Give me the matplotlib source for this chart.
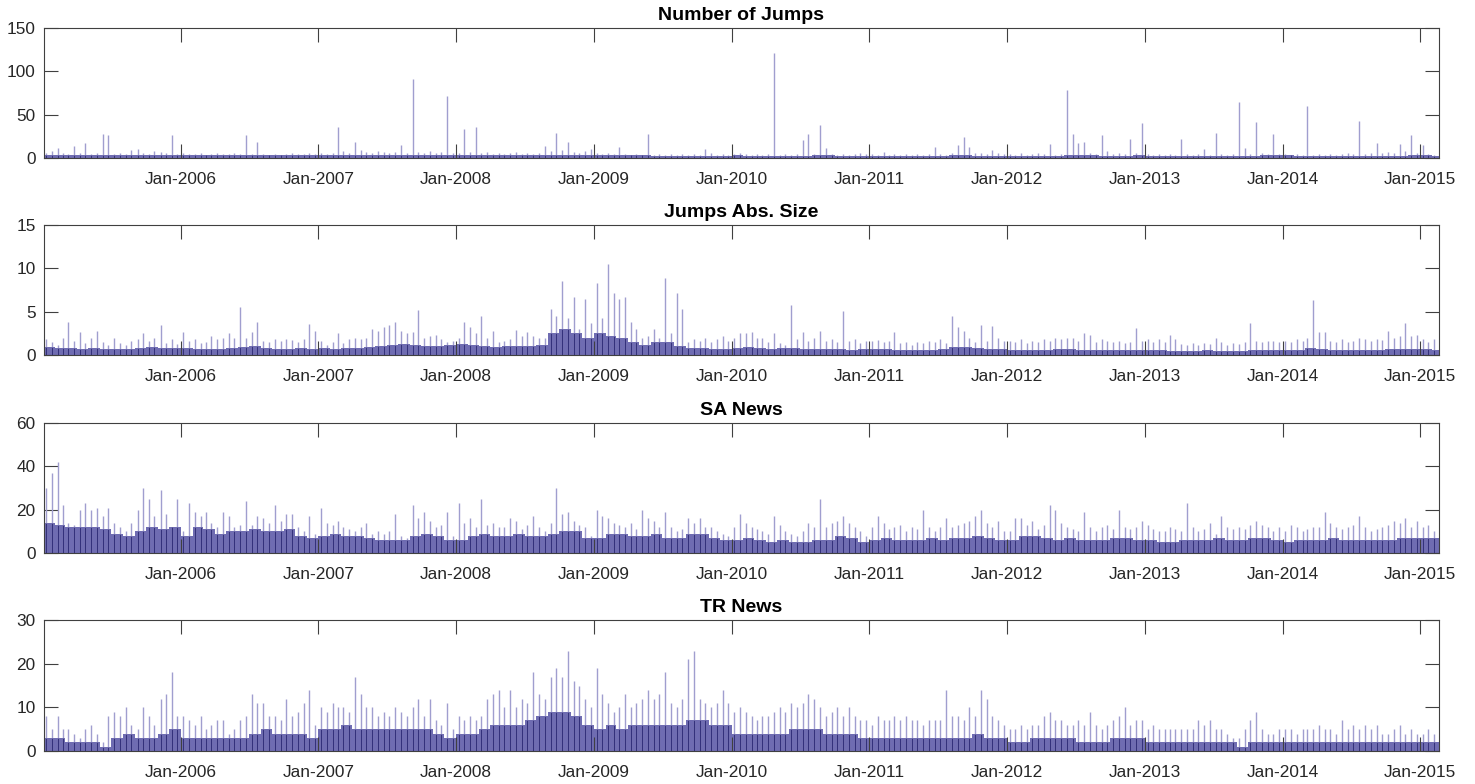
#!/usr/bin/env python3
# -*- coding: utf-8 -*-
"""
Four stacked daily-activity panels (jumps and news counts), 2005-2015.
Values are read off the reference: a monthly "body" level for the dense
mass of bars and a half-monthly "hair" level for the thin tall bars.
"""
import numpy as np
import pandas as pd
import matplotlib
matplotlib.use("Agg")
import matplotlib.pyplot as plt
import matplotlib.dates as mdates

plt.rcParams["font.family"] = ["Liberation Sans", "DejaVu Sans"]

TITLES = ["Number of Jumps", "Jumps Abs. Size", "SA News", "TR News"]
YMAX = [150, 15, 60, 30]
YTICKS = [[0, 50, 100, 150], [0, 5, 10, 15], [0, 20, 40, 60], [0, 10, 20, 30]]

# ---- Number of Jumps -------------------------------------------------------
NJ_BODY = [
    4, 3, 3, 3, 3, 3, 3, 3, 3, 3, 3, 3,   # 2005
    3, 3, 3, 3, 3, 3, 3, 3, 3, 3, 3, 3,   # 2006
    3, 3, 4, 4, 4, 4, 4, 4, 4, 4, 3, 3,   # 2007
    4, 4, 3, 3, 3, 3, 3, 3, 4, 4, 3, 3,   # 2008
    3, 3, 3, 3, 3, 2, 2, 2, 2, 2, 2, 2,   # 2009
    3, 2, 2, 2, 2, 2, 2, 3, 3, 2, 2, 2,   # 2010
    2, 2, 2, 2, 2, 2, 2, 3, 3, 2, 2, 2,   # 2011
    2, 2, 2, 2, 2, 3, 3, 3, 2, 2, 2, 3,   # 2012
    2, 2, 2, 2, 2, 2, 2, 2, 2, 2, 3, 3,   # 2013
    3, 2, 2, 2, 2, 2, 2, 2, 2, 2, 2, 3,   # 2014
    3, 2,                                 # 2015
]
NJ_HAIR = [
    6, 8, 11.5, 6, 5, 14, 6, 17, 5, 6, 27.6, 27, 5, 6, 5, 9, 10, 6, 5, 8, 7, 6, 26, 5,
    6, 5, 5, 6, 4, 5, 6, 5, 5, 6, 5, 27, 5, 19, 5, 4, 5, 4, 5, 6, 5, 5, 6, 5,
    6, 5, 6, 36, 8, 6, 18, 9, 7, 6, 8, 7, 6, 7, 14.5, 6, 91, 7, 6, 8, 6, 7, 71, 6,
    6, 34, 7, 36, 6, 7, 5, 6, 5, 6, 7, 5, 6, 5, 6, 14, 8, 29, 9, 19, 7, 6, 8, 10,
    6, 5, 6, 5, 12.6, 5, 4, 5, 4, 28, 4, 5, 4, 5, 4, 5, 4, 5, 4, 10, 6, 4, 5, 4,
    5, 6, 5, 4, 5, 4, 5, 121, 4, 5, 4, 5, 21, 28, 5, 38, 12, 5, 4, 5, 4, 5, 6, 5,
    5, 4, 7, 4, 5, 4, 5, 4, 5, 4, 5, 13, 5, 4, 6, 14.5, 23.7, 13, 6, 6, 5, 9, 6, 5,
    5, 4, 6, 4, 5, 6, 5, 16, 4, 5, 79, 27.6, 17, 18, 6, 5, 26, 8, 5, 6, 5, 22, 6, 40,
    5, 4, 5, 4, 5, 4, 22, 5, 4, 5, 10, 4, 29, 5, 4, 5, 65, 12, 5, 41, 6, 5, 28, 5,
    5, 4, 5, 4, 60.5, 4, 5, 4, 5, 4, 5, 6, 5, 42.5, 5, 6, 17, 6, 7, 6, 16, 8, 27, 6,
    15, 5, 4, 3,
]

# ---- Jumps Abs. Size -------------------------------------------------------
JS_BODY = [
    0.9, 0.8, 0.8, 0.7, 0.8, 0.7, 0.7, 0.7, 0.8, 0.9, 0.8, 0.8,
    0.8, 0.7, 0.7, 0.7, 0.8, 0.9, 1.0, 0.8, 0.7, 0.7, 0.8, 0.7,
    0.8, 0.7, 0.8, 0.8, 0.9, 1.0, 1.2, 1.3, 1.1, 1.0, 1.0, 1.1,
    1.3, 1.2, 1.0, 0.9, 1.0, 1.0, 1.0, 1.2, 2.5, 3.0, 2.5, 2.0,
    2.5, 2.2, 2.0, 1.5, 1.2, 1.5, 1.5, 1.0, 0.8, 0.8, 0.7, 0.7,
    0.8, 0.9, 0.8, 0.7, 0.8, 0.8, 0.7, 0.7, 0.7, 0.7, 0.6, 0.7,
    0.7, 0.7, 0.6, 0.6, 0.6, 0.6, 0.7, 0.9, 0.9, 0.8, 0.7, 0.7,
    0.6, 0.6, 0.6, 0.6, 0.7, 0.7, 0.6, 0.6, 0.6, 0.6, 0.6, 0.6,
    0.6, 0.6, 0.5, 0.5, 0.5, 0.6, 0.5, 0.5, 0.5, 0.6, 0.6, 0.6,
    0.6, 0.6, 0.8, 0.7, 0.6, 0.6, 0.6, 0.6, 0.6, 0.7, 0.7, 0.7,
    0.7, 0.6,
]
JS_HAIR = [
    1.8, 1.5, 1.2, 2.0, 3.8, 1.6, 2.6, 1.4, 2.0, 2.8, 1.5, 1.2, 2.0, 1.4, 1.2, 1.6, 1.8, 2.5, 1.6, 2.0, 3.5, 1.4, 1.8, 1.3,
    2.6, 1.6, 1.8, 1.4, 1.5, 2.2, 1.8, 2.0, 2.5, 2.0, 5.5, 2.0, 2.7, 3.8, 1.6, 1.5, 1.8, 1.6, 1.8, 1.7, 1.5, 1.8, 3.6, 2.8,
    1.6, 1.2, 1.5, 2.5, 1.4, 1.8, 2.0, 1.8, 2.0, 3.0, 2.8, 3.2, 3.5, 3.8, 2.8, 2.5, 2.7, 5.2, 2.0, 2.2, 2.3, 1.8, 1.5, 1.6,
    2.0, 3.8, 3.2, 2.5, 4.5, 2.0, 2.8, 1.5, 1.6, 1.8, 2.9, 2.2, 2.6, 2.2, 2.0, 2.0, 5.3, 4.5, 8.5, 4.3, 6.7, 3.0, 6.5, 3.7,
    8.3, 4.3, 10.5, 7.2, 6.5, 6.7, 3.8, 3.0, 2.0, 2.2, 3.0, 2.0, 8.9, 2.5, 7.2, 5.3, 1.5, 1.8, 1.6, 2.0, 1.5, 1.8, 2.2, 1.6,
    2.0, 2.5, 2.5, 2.7, 2.0, 2.0, 1.5, 2.5, 1.4, 1.2, 5.8, 1.8, 2.6, 1.6, 2.0, 2.8, 1.6, 1.8, 1.5, 5.1, 1.6, 1.8, 1.4, 1.6,
    1.6, 1.7, 1.5, 1.6, 2.6, 1.4, 1.5, 1.2, 1.5, 1.4, 1.6, 1.5, 1.8, 1.4, 4.5, 3.2, 2.8, 2.0, 1.5, 3.5, 1.6, 3.4, 2.0, 1.6,
    1.6, 1.5, 1.8, 1.4, 1.6, 1.5, 1.8, 1.6, 2.0, 1.8, 2.0, 2.0, 1.6, 2.5, 2.3, 1.5, 1.8, 1.6, 1.5, 1.6, 1.4, 1.5, 3.1, 1.6,
    1.8, 1.5, 1.8, 1.5, 2.3, 1.8, 1.3, 1.2, 1.4, 1.2, 1.4, 1.3, 2.0, 1.5, 1.2, 1.4, 1.3, 1.5, 3.7, 1.6, 1.5, 1.6, 1.6, 1.5,
    1.6, 1.5, 1.8, 1.6, 2.0, 6.3, 2.6, 2.6, 1.6, 1.5, 1.8, 1.5, 1.6, 2.0, 1.8, 1.6, 1.9, 1.7, 2.8, 2.0, 2.2, 3.7, 2.2, 2.3,
    1.8, 1.5, 1.8, 1.4,
]

# ---- SA News ---------------------------------------------------------------
SA_BODY = [
    14, 13, 12, 12, 12, 11, 9, 8, 10, 12, 11, 12,
    8, 12, 11, 9, 10, 10, 11, 10, 10, 11, 8, 7,
    8, 9, 8, 8, 7, 6, 6, 6, 8, 9, 8, 6,
    6, 8, 9, 8, 8, 9, 8, 8, 9, 10, 10, 7,
    7, 9, 9, 8, 8, 9, 7, 7, 9, 9, 7, 6,
    6, 7, 6, 5, 6, 5, 5, 6, 6, 8, 7, 5,
    6, 7, 6, 6, 6, 7, 6, 7, 7, 8, 7, 6,
    6, 8, 8, 7, 6, 7, 6, 6, 6, 7, 7, 6,
    6, 5, 5, 6, 6, 6, 7, 6, 6, 7, 7, 6,
    5, 6, 6, 6, 7, 6, 6, 6, 6, 6, 7, 7,
    7, 7,
]
SA_HAIR = [
    30, 37, 42, 22, 14, 13, 20, 23, 20, 21, 17, 21, 14, 12, 10, 14, 20, 30, 25, 17, 29, 18, 12, 25,
    10, 23, 19, 17, 19, 14, 12, 19, 17, 12, 13, 24, 13, 17, 16, 14, 22, 15, 18, 18, 12, 10, 17, 9,
    21, 14, 13, 15, 12, 11, 10, 12, 14, 9, 10, 9, 10, 18, 8, 7, 22, 16, 19, 15, 12, 13, 19, 8,
    23, 14, 16, 12, 25, 13, 14, 12, 12, 16, 15, 11, 13, 17, 12, 10, 14, 30, 18, 19, 15, 13, 12, 8,
    20, 17, 16, 14, 13, 12, 14, 11, 20, 16, 15, 12, 19, 12, 10, 11, 16, 14, 16, 12, 12, 10, 9, 8,
    12, 18, 14, 12, 11, 10, 9, 17, 13, 10, 9, 8, 10, 14, 12, 25, 12, 14, 15, 17, 14, 12, 10, 8,
    12, 17, 14, 11, 12, 13, 10, 12, 11, 20, 12, 10, 12, 16, 12, 13, 14, 15, 17, 20, 14, 12, 15, 10,
    10, 16, 16, 13, 15, 11, 13, 22, 20, 14, 12, 11, 10, 19, 12, 10, 12, 13, 11, 20, 12, 11, 12, 15,
    13, 11, 10, 10, 12, 11, 10, 23, 12, 10, 11, 14, 9, 17, 12, 11, 12, 11, 13, 15, 13, 12, 10, 12,
    10, 13, 12, 10, 11, 12, 12, 19, 14, 12, 11, 12, 13, 17, 12, 10, 11, 12, 13, 15, 14, 16, 12, 15,
    12, 13, 10, 10,
]

# ---- TR News ---------------------------------------------------------------
TR_BODY = [
    3, 3, 2, 2, 2, 1, 3, 4, 3, 3, 4, 5,
    3, 3, 3, 3, 3, 3, 4, 5, 4, 4, 4, 3,
    5, 5, 6, 5, 5, 5, 5, 5, 5, 5, 4, 3,
    4, 4, 5, 6, 6, 6, 7, 8, 9, 9, 8, 6,
    5, 6, 5, 6, 6, 6, 6, 6, 7, 7, 6, 6,
    4, 4, 4, 4, 4, 5, 5, 5, 4, 4, 4, 3,
    3, 3, 3, 3, 3, 3, 3, 3, 3, 4, 3, 3,
    2, 2, 3, 3, 3, 3, 2, 2, 2, 3, 3, 3,
    2, 2, 2, 2, 2, 2, 2, 2, 1, 2, 2, 2,
    2, 2, 2, 2, 2, 2, 2, 2, 2, 2, 2, 2,
    2, 2,
]
TR_HAIR = [
    8, 5, 8, 5, 5, 4, 3, 5, 6, 4, 2, 8, 9, 8, 10, 6, 5, 10, 8, 6, 12, 13, 18, 8,
    8, 7, 6, 8, 5, 6, 7, 7, 4, 5, 7, 8, 13, 11, 11, 8, 8, 7, 12, 8, 9, 11, 14, 6,
    10, 9, 11, 10, 10, 9, 17, 13, 10, 10, 8, 9, 8, 10, 9, 8, 10, 12, 8, 12, 7, 6, 11, 5,
    8, 7, 8, 7, 8, 12, 13, 14, 10, 14, 10, 12, 11, 18, 13, 12, 17, 19, 17, 23, 16, 15, 12, 10,
    19, 13, 11, 9, 10, 13, 10, 11, 12, 14, 12, 13, 18, 11, 10, 12, 21, 23, 12, 11, 10, 11, 14, 11,
    9, 10, 9, 8, 7, 8, 8, 9, 10, 9, 11, 10, 11, 13, 12, 10, 8, 9, 10, 8, 10, 8, 7, 7,
    6, 8, 7, 7, 8, 7, 8, 7, 7, 6, 7, 7, 7, 14, 8, 8, 7, 10, 8, 14, 12, 8, 7, 6,
    5, 5, 6, 5, 6, 6, 8, 9, 7, 7, 6, 6, 7, 6, 9, 6, 5, 6, 7, 8, 10, 6, 7, 7,
    5, 6, 5, 5, 5, 5, 5, 5, 5, 7, 6, 7, 5, 5, 4, 3, 3, 5, 7, 9, 5, 4, 4, 5,
    5, 5, 4, 5, 5, 5, 6, 5, 5, 4, 7, 5, 6, 5, 6, 5, 6, 4, 4, 5, 6, 4, 5, 4,
    4, 5, 4, 7,
]

PANELS = [
    (NJ_BODY, NJ_HAIR),
    (JS_BODY, JS_HAIR),
    (SA_BODY, SA_HAIR),
    (TR_BODY, TR_HAIR),
]

BODY_C = "#6f6cb2"
HAIR_C = "#a09ecf"
STREAK_C = "#34317c"
AX_C = "#404040"
TXT_C = "#262626"

X0 = pd.Timestamp("2005-01-03")
X1 = pd.Timestamp("2015-02-20")

# axes boxes in figure fraction (left, bottom, width, height)
W, H = 1475, 784
BOXES = [
    (44 / W, 1 - 158 / H, 1395 / W, 130 / H),
    (44 / W, 1 - 355 / H, 1395 / W, 130 / H),
    (44 / W, 1 - 553 / H, 1395 / W, 130 / H),
    (44 / W, 1 - 751 / H, 1395 / W, 131 / H),
]


def month_starts(n):
    return pd.date_range("2005-01-01", periods=n, freq="MS")


def half_month_dates(n):
    out = []
    for m in month_starts((n + 1) // 2):
        out.append(m + pd.Timedelta(days=7))
        out.append(m + pd.Timedelta(days=22))
    return out[:n]


def style_axes(ax, ymax, yticks):
    ax.set_xlim(X0, X1)
    ax.set_ylim(0, ymax)
    ax.set_yticks(yticks)
    ax.xaxis.set_major_locator(mdates.YearLocator())
    ax.xaxis.set_major_formatter(mdates.DateFormatter("%b-%Y"))
    ax.tick_params(axis="both", which="major", direction="in", length=10,
                   width=0.8, top=True, right=True, color=AX_C,
                   labelsize=12.4, labelcolor=TXT_C)
    ax.tick_params(axis="x", pad=10)
    ax.tick_params(axis="y", pad=6)
    for sp in ax.spines.values():
        sp.set_color(AX_C)
        sp.set_linewidth(0.8)


def main():
    fig = plt.figure(figsize=(W / 100, H / 100), dpi=100)
    for (body, hair), title, ymax, yt, box in zip(PANELS, TITLES, YMAX, YTICKS, BOXES):
        ax = fig.add_axes(box)
        md = month_starts(len(body))
        hd = half_month_dates(len(hair))
        # body level of the month each half-month falls in
        body_half = np.minimum(np.repeat(body, 2)[:len(hair)], hair)
        ax.vlines(hd, 0, hair, colors=HAIR_C, linewidth=1.0)
        ax.bar(md, body, width=np.asarray(md.days_in_month, dtype=float),
               align="edge", color=BODY_C, linewidth=0)
        ax.vlines(hd, 0, body_half, colors=STREAK_C, linewidth=0.9)
        style_axes(ax, ymax, yt)
        ax.set_title(title, fontsize=14, fontweight="bold", color="black", pad=5.5)
    fig.savefig("out.png", dpi=100)
    plt.close(fig)


if __name__ == "__main__":
    main()
